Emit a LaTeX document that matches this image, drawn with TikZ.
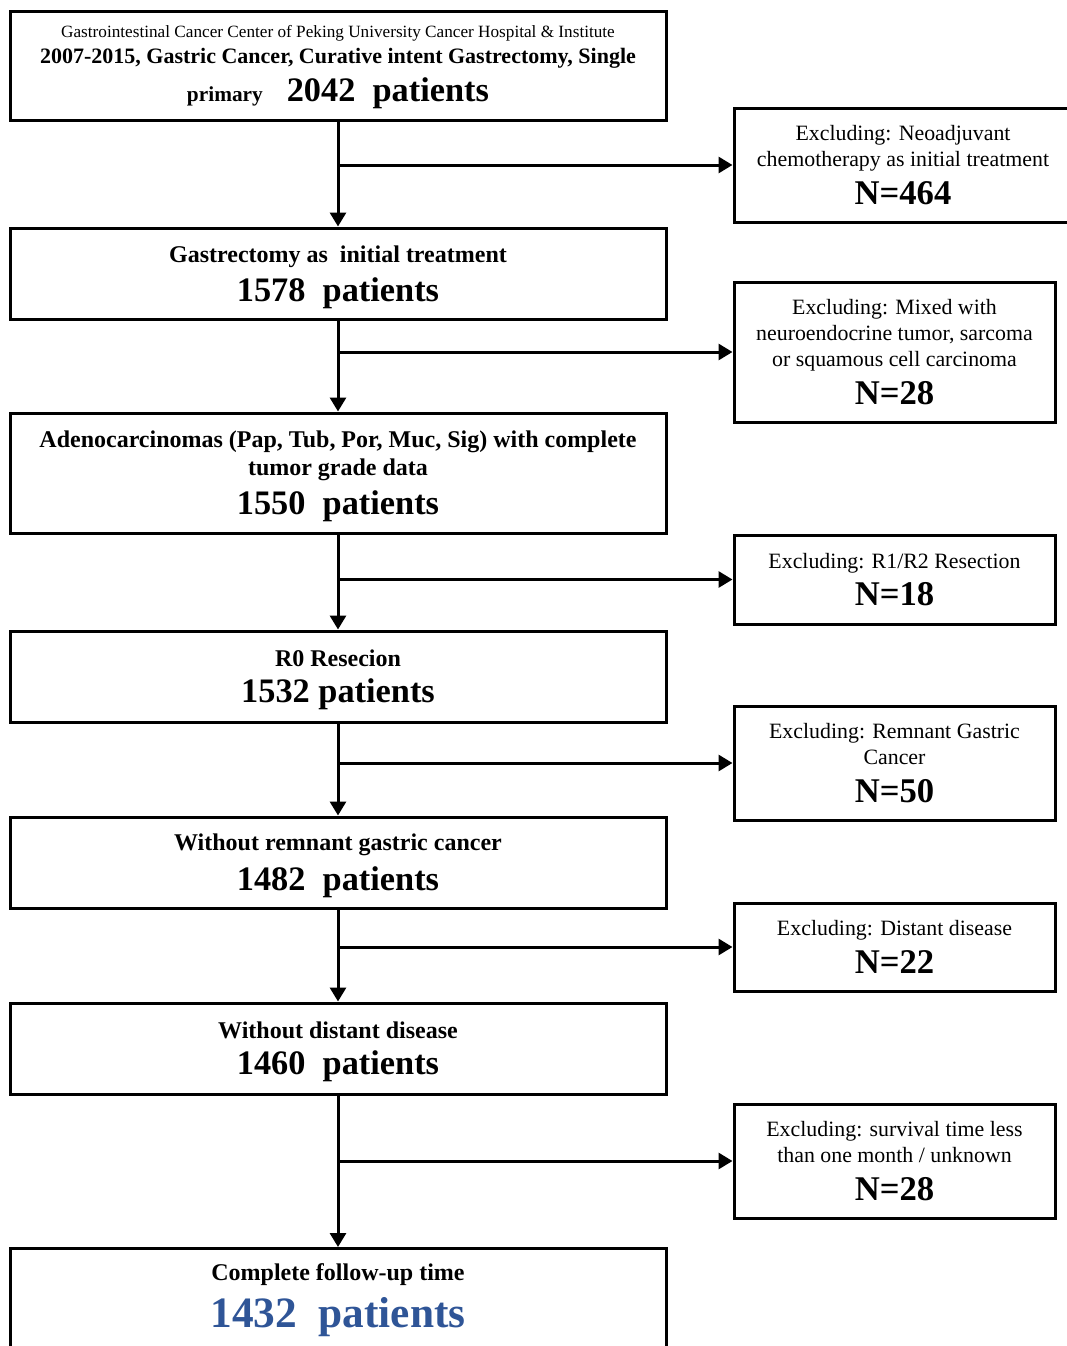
\documentclass[tikz,border=0pt]{standalone}
\usepackage{fontspec}
\setmainfont{Liberation Serif}
\usetikzlibrary{arrows.meta, positioning}
\definecolor{pkublue}{HTML}{2F5597}
\newcommand{\bignum}{\fontsize{25.75}{26}\selectfont\bfseries}
\newcommand{\bigN}{\fontsize{26}{26}\selectfont\bfseries}
\newcommand{\topgap}{\rule{0pt}{17.5pt}}

\begin{document}
\begin{tikzpicture}[
        x=0.75pt, y=-0.75pt,
        stage/.style={draw, line width=2.25pt, minimum width=492pt,
                      font=\fontsize{18}{21}\selectfont\bfseries, align=center},
        excl/.style={draw, line width=2.25pt, minimum width=240.75pt,
                     font=\fontsize{16.4}{19.5}\selectfont, align=center},
        arr/.style={-{Triangle[length=10.5pt, width=12pt]}, line width=2.25pt}
      ]
        \useasboundingbox (0,0) rectangle (1067,1346);
        \clip (0,0) rectangle (1067,1346);

        % main stages
        \node[stage, minimum height=81.75pt] (all) at (338,65.5)
          {\rule{0pt}{12pt}{\fontsize{12.9}{15}\selectfont\mdseries Gastrointestinal Cancer Center of Peking University Cancer Hospital \& Institute}\\[-1.5pt]
           {\fontsize{16.5}{18}\selectfont 2007-2015, Gastric Cancer, Curative intent Gastrectomy, Single}\\[6pt]
           {\fontsize{16}{18}\selectfont primary}\quad{\bignum 2042\ \ patients}};
        \node[stage, minimum height=68.25pt] (gast) at (338,273.5)
          {\topgap Gastrectomy as\ \ initial treatment\\[6.5pt] {\bignum 1578\ \ patients}};
        \node[stage, minimum height=90pt] (adeno) at (338,473)
          {\topgap Adenocarcinomas (Pap, Tub, Por, Muc, Sig) with complete\\ tumor grade data\\[6.5pt] {\bignum 1550\ \ patients}};
        \node[stage, minimum height=68.25pt] (rzero) at (338,676.5)
          {\topgap R0 Resecion\\[6.5pt] {\bignum 1532 patients}};
        \node[stage, minimum height=68.25pt] (remn) at (338,862.5)
          {\topgap Without remnant gastric cancer\\[6.5pt] {\bignum 1482\ \ patients}};
        \node[stage, minimum height=68.25pt] (dist) at (338,1048.5)
          {\topgap Without distant disease\\[6.5pt] {\bignum 1460\ \ patients}};
        \node[stage, anchor=north] (final) at (338,1247)
          {\rule{0pt}{21pt}Complete follow-up time\\[7.5pt] {\fontsize{32.5}{33}\selectfont\color{pkublue}1432\ \ patients}\\[20pt] \mbox{}};

        % exclusions
        \node[excl, minimum width=253.5pt, minimum height=85.5pt] (ex1) at (903,165)
          {Excluding: Neoadjuvant\\ chemotherapy as initial treatment\\[6.5pt] {\bigN N=464}};
        \node[excl, minimum height=105pt] (ex2) at (894.5,352)
          {Excluding: Mixed with\\ neuroendocrine tumor, sarcoma\\ or squamous cell carcinoma\\[6.5pt] {\bigN N=28}};
        \node[excl, minimum height=66.75pt] (ex3) at (894.5,579.5)
          {Excluding: R1/R2 Resection\\[6.5pt] {\bigN N=18}};
        \node[excl, minimum height=85.5pt] (ex4) at (894.5,763)
          {Excluding: Remnant Gastric\\ Cancer\\[9pt] {\bigN N=50}};
        \node[excl, minimum height=66pt] (ex5) at (894.5,947)
          {Excluding: Distant disease\\[6.5pt] {\bigN N=22}};
        \node[excl, minimum height=85.5pt] (ex6) at (894.5,1161)
          {Excluding: survival time less\\ than one month / unknown\\[8.5pt] {\bigN N=28}};

        \draw[arr] (all) -- (gast);
        \draw[arr] (gast) -- (adeno);
        \draw[arr] (adeno) -- (rzero);
        \draw[arr] (rzero) -- (remn);
        \draw[arr] (remn) -- (dist);
        \draw[arr] (dist) -- (final);

        \draw[arr] (all.south |- ex1.west) -- (ex1.west);
        \draw[arr] (gast.south |- ex2.west) -- (ex2.west);
        \draw[arr] (adeno.south |- ex3.west) -- (ex3.west);
        \draw[arr] (rzero.south |- ex4.west) -- (ex4.west);
        \draw[arr] (remn.south |- ex5.west) -- (ex5.west);
        \draw[arr] (dist.south |- ex6.west) -- (ex6.west);
      \end{tikzpicture}
\end{document}
